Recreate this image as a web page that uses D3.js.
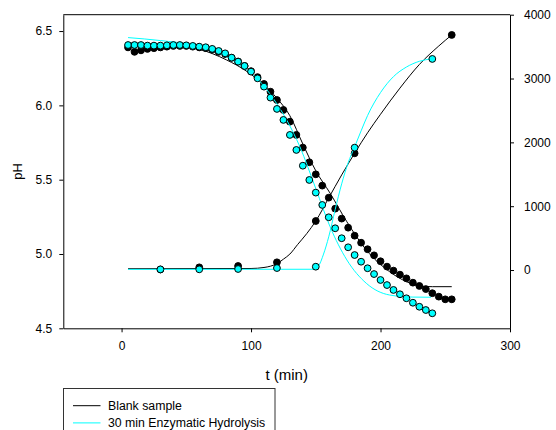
<!DOCTYPE html>
<html>
<head>
<meta charset="utf-8">
<script src="https://cdn.jsdelivr.net/npm/d3@7"></script>
<style>
  html, body { margin: 0; padding: 0; background: #fff; }
  svg { display: block; font-family: "Liberation Sans", Arial, sans-serif; }
</style>
</head>
<body>
<svg id="chart" width="556" height="430"></svg>
<script>
// pH readings every 5 min
const blankTime = [5,10,15,20,25,30,35,40,45,50,55,60,65,70,75,80,85,90,95,100,105,110,115,120,125,130,135,140,145,150,155,160,165,170,175,180,185,190,195,200,205,210,215,220,225,230,235,240,245,250,255];
const blankPH = [6.39,6.36,6.37,6.38,6.385,6.39,6.395,6.40,6.40,6.40,6.395,6.39,6.385,6.375,6.36,6.345,6.32,6.295,6.265,6.23,6.19,6.144,6.092,6.036,5.969,5.890,5.801,5.716,5.617,5.536,5.460,5.379,5.305,5.238,5.177,5.123,5.076,5.032,4.991,4.951,4.915,4.888,4.861,4.836,4.807,4.785,4.764,4.736,4.713,4.695,4.695];

const enzTime = [5,10,15,20,25,30,35,40,45,50,55,60,65,70,75,80,85,90,95,100,105,110,115,120,125,130,135,140,145,150,155,160,165,170,175,180,185,190,195,200,205,210,215,220,225,230,235,240];
const enzPH = [6.406,6.406,6.406,6.402,6.402,6.402,6.404,6.406,6.406,6.404,6.40,6.395,6.391,6.380,6.366,6.350,6.321,6.294,6.265,6.227,6.182,6.126,6.052,5.976,5.902,5.801,5.700,5.594,5.498,5.413,5.330,5.247,5.173,5.106,5.045,4.993,4.948,4.904,4.865,4.825,4.791,4.758,4.729,4.702,4.672,4.645,4.623,4.601];

// right-axis readings every 30 min
const blankRTime = [30,60,90,120,150,180,255];
const blankR = [8,42,63,121,768,1829,3683];
const enzRTime = [30,60,90,120,150,180,240];
const enzR = [10,11,16,31,52,1917,3307];

// fitted curves
const blankFitPHTime = [5,30,60,81,97,110,120,130,140,150,161,174,189,207,220,230,240,255];
const blankFitPH = [6.42,6.41,6.377,6.306,6.227,6.137,6.048,5.93,5.74,5.56,5.41,5.217,5.027,4.881,4.814,4.785,4.78,4.78];
const enzFitPHTime = [5,30,55,73,91,107,117,127.5,137.8,150,161,174,189,207,225,239];
const enzFitPH = [6.456,6.436,6.406,6.361,6.272,6.160,6.048,5.902,5.72,5.44,5.184,4.960,4.803,4.724,4.71,4.709];

const blankFitRTime = [5,100,110,115,120,125,130,136,143,150,160,170,180,190,200,215,230,245,255];
const blankFitR = [20,24,40,60,100,170,250,400,570,768,1130,1490,1830,2150,2440,2850,3220,3510,3683];
const enzFitRTime = [5,148,152,156,160,165,170,175,180,185,190,200,210,220,230,239];
const enzFitR = [10,12,60,250,520,950,1350,1680,1930,2180,2420,2780,3030,3180,3270,3307];

const xTicks = [0,100,200,300];
const yLeftTicks = [4.5,5.0,5.5,6.0,6.5];
const yRightTicks = [0,1000,2000,3000,4000];
const seriesNames = ["Blank sample","30 min Enzymatic Hydrolysis"];
const seriesColors = ["#000000","#00ffff"];

const svg = d3.select("#chart");
const L = 63.3, R = 510, T = 14.7, B = 328.3;

const x = d3.scaleLinear().domain([-45,300]).range([L,R]);
const yL = d3.scaleLinear().domain([4.5,6.61]).range([B,T]);
const yR = d3.scaleLinear().domain([-913,4000]).range([B,T]);

const zip = (a,b) => a.map((v,i) => [v,b[i]]);

// frame top edge
svg.append("line").attr("x1",L).attr("x2",R).attr("y1",T).attr("y2",T)
  .attr("stroke","#000").attr("stroke-width",1);

const styleAxis = g => {
  g.selectAll("path,line").attr("stroke","#000").attr("stroke-width",1);
  g.selectAll("text").attr("font-size",12).attr("fill","#000")
    .attr("font-family","'Liberation Sans', Arial, sans-serif");
};

svg.append("g").attr("transform",`translate(0,${B})`)
  .call(d3.axisBottom(x).tickValues(xTicks).tickSize(4).tickSizeOuter(0).tickPadding(9).tickFormat(d3.format("d")))
  .call(styleAxis);
svg.append("g").attr("transform",`translate(${L},0)`)
  .call(d3.axisLeft(yL).tickValues(yLeftTicks).tickSize(4).tickSizeOuter(0).tickPadding(7).tickFormat(d3.format(".1f")))
  .call(styleAxis);
svg.append("g").attr("transform",`translate(${R},0)`)
  .call(d3.axisRight(yR).tickValues(yRightTicks).tickSize(4).tickSizeOuter(0).tickPadding(10).tickFormat(d3.format("d")))
  .call(styleAxis);

// axis titles
svg.append("text").attr("transform",`translate(22,${(T+B)/2}) rotate(-90)`)
  .attr("text-anchor","middle").attr("font-size",13).text("pH");
svg.append("text").attr("x",(L+R)/2).attr("y",380).attr("text-anchor","middle")
  .attr("font-size",15).text("t (min)");

const lineL = d3.line().x(d=>x(d[0])).y(d=>yL(d[1])).curve(d3.curveMonotoneX);
const lineR = d3.line().x(d=>x(d[0])).y(d=>yR(d[1])).curve(d3.curveMonotoneX);

const plot = svg.append("g");
function drawSeries(fitPH, fitR, pts, ptsR, color) {
  plot.append("path").datum(fitPH).attr("d",lineL).attr("fill","none").attr("stroke",color).attr("stroke-width",1);
  plot.append("path").datum(fitR).attr("d",lineR).attr("fill","none").attr("stroke",color).attr("stroke-width",1);
  plot.append("g").selectAll("circle").data(pts).join("circle")
    .attr("cx",d=>x(d[0])).attr("cy",d=>yL(d[1])).attr("r",3.4)
    .attr("fill",color).attr("stroke","#000").attr("stroke-width",1);
  plot.append("g").selectAll("circle").data(ptsR).join("circle")
    .attr("cx",d=>x(d[0])).attr("cy",d=>yR(d[1])).attr("r",3.4)
    .attr("fill",color).attr("stroke","#000").attr("stroke-width",1);
}
drawSeries(zip(blankFitPHTime,blankFitPH), zip(blankFitRTime,blankFitR),
  zip(blankTime,blankPH), zip(blankRTime,blankR), seriesColors[0]);
drawSeries(zip(enzFitPHTime,enzFitPH), zip(enzFitRTime,enzFitR),
  zip(enzTime,enzPH), zip(enzRTime,enzR), seriesColors[1]);

// legend
const lg = svg.append("g");
lg.append("rect").attr("x",63.5).attr("y",388.5).attr("width",211.5).attr("height",60)
  .attr("fill","#fff").attr("stroke","#333").attr("stroke-width",1);
seriesNames.forEach((name,i) => {
  const yy = 405.7 + i*17.2;
  lg.append("line").attr("x1",73).attr("x2",100.5).attr("y1",yy).attr("y2",yy)
    .attr("stroke",seriesColors[i]).attr("stroke-width",1);
  lg.append("text").attr("x",108).attr("y",yy).attr("dy","0.36em")
    .attr("font-size",12.3).text(name);
});
</script>
</body>
</html>
